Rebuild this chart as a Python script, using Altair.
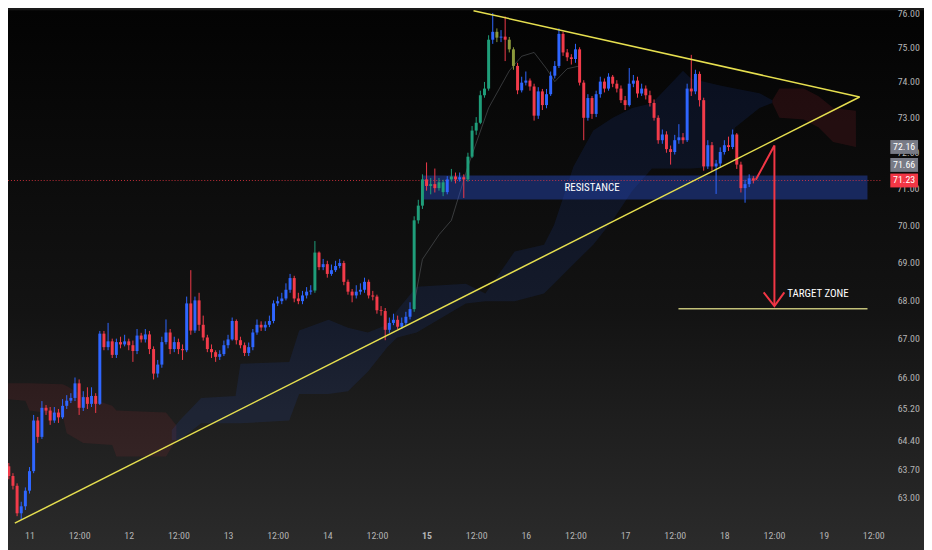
import altair as alt
import pandas as pd

FONT = "Liberation Sans Narrow, Roboto Condensed, DejaVu Sans Condensed, Roboto, sans-serif"

# ---------------- candle data (hourly, t = hours from day 11 00:00) ----------------
t_start = -6
first_open = 64.13
closes = [
    63.77, 63.53, 63.29, 62.62, 62.79, 63.17, 63.65, 64.91, 64.50, 65.23,
    65.16, 64.91, 65.11, 64.99, 65.28, 65.41, 65.48, 65.85, 65.23, 65.50,
    65.33, 65.53, 65.33, 67.13, 66.78, 66.93, 66.58, 66.91, 66.85, 66.93,
    66.83, 66.68, 67.08, 66.98, 67.11, 66.73, 66.10, 66.33, 66.91, 67.16,
    66.73, 66.91, 66.73, 66.70, 67.92, 67.21, 68.00, 67.36, 67.03, 66.73,
    66.65, 66.53, 66.60, 66.83, 66.98, 67.46, 66.96, 66.83, 66.63, 66.78,
    67.16, 67.36, 67.29, 67.36, 67.46, 67.92, 67.98, 68.05, 68.28, 68.59,
    68.05, 67.98, 68.13, 68.23, 68.26, 69.27, 68.88, 68.96, 68.70, 68.80,
    68.91, 68.99, 68.49, 68.23, 68.13, 68.23, 68.28, 68.49, 68.13, 68.10,
    67.74, 67.72, 67.23, 67.41, 67.49, 67.31, 67.41, 67.57, 67.77, 70.14,
    70.54, 71.26, 71.08, 71.13, 71.02, 71.18, 70.91, 71.26, 71.34, 71.26,
    71.32, 71.26, 71.89, 72.62, 72.84, 73.62, 73.81, 75.22, 75.45, 75.28,
    75.31, 75.22, 74.94, 74.46, 73.76, 73.98, 74.04, 73.87, 73.04, 73.73,
    73.34, 73.65, 74.18, 74.46, 75.39, 74.85, 74.71, 74.66, 74.94, 73.98,
    72.98, 73.54, 73.09, 73.65, 74.01, 73.81, 74.15, 73.95, 73.81, 73.48,
    73.34, 73.95, 74.04, 73.67, 73.81, 73.62, 73.40, 72.98, 72.35, 72.51,
    72.10, 72.02, 72.35, 72.43, 72.35, 73.81, 73.73, 74.23, 73.48, 71.62,
    72.21, 71.62, 71.70, 72.02, 72.21, 72.16, 72.51, 71.67, 71.02, 71.13,
    71.29, 71.23,
]
highs = [
    64.25, 63.85, 63.60, 63.35, 62.90, 63.25, 63.75, 65.05, 65.00, 65.40,
    65.30, 65.25, 65.25, 65.20, 65.45, 65.55, 65.60, 66.00, 65.95, 65.65,
    65.75, 65.75, 65.60, 67.20, 67.20, 67.41, 67.00, 67.00, 67.05, 67.10,
    67.00, 66.95, 67.25, 67.15, 67.25, 67.20, 66.80, 66.45, 67.05, 67.50,
    67.25, 67.05, 67.00, 66.85, 68.10, 68.80, 68.10, 68.20, 67.60, 67.10,
    66.85, 66.70, 66.70, 66.95, 67.10, 67.55, 67.50, 67.05, 66.90, 66.90,
    67.25, 67.50, 67.45, 67.45, 67.60, 68.00, 68.10, 68.20, 68.45, 68.70,
    68.65, 68.20, 68.25, 68.35, 68.40, 69.58, 69.30, 69.10, 69.05, 68.95,
    69.05, 69.10, 69.05, 68.55, 68.30, 68.40, 68.45, 68.60, 68.55, 68.25,
    68.15, 67.85, 67.80, 67.55, 67.65, 67.60, 67.55, 67.70, 67.95, 70.25,
    70.70, 71.40, 71.73, 71.30, 71.56, 71.30, 71.25, 71.35, 71.55, 71.45,
    71.45, 71.40, 72.00, 72.75, 73.00, 73.75, 74.00, 75.35, 76.00, 75.55,
    75.50, 75.90, 75.30, 75.00, 74.55, 74.15, 74.30, 74.10, 73.95, 73.85,
    73.80, 73.80, 74.30, 74.60, 75.55, 75.45, 74.95, 74.80, 75.10, 75.00,
    74.05, 73.65, 73.60, 73.75, 74.15, 74.10, 74.25, 74.20, 74.05, 73.90,
    73.60, 74.40, 74.20, 74.15, 73.95, 73.90, 73.75, 73.50, 73.05, 72.65,
    72.60, 72.20, 72.50, 72.80, 72.55, 73.95, 74.78, 74.35, 74.30, 73.55,
    72.35, 72.30, 71.80, 72.15, 72.35, 72.45, 72.65, 72.55, 71.75, 71.25,
    71.40, 71.35,
]
lows = [
    63.70, 63.45, 63.20, 62.55, 62.46, 62.70, 63.10, 63.60, 64.35, 64.45,
    65.05, 64.80, 64.85, 64.85, 64.95, 65.20, 65.35, 65.40, 65.05, 65.15,
    65.20, 65.25, 65.10, 65.30, 66.70, 66.70, 66.50, 66.50, 66.75, 66.80,
    66.70, 66.40, 66.60, 66.90, 66.90, 66.60, 65.95, 66.00, 66.25, 66.85,
    66.60, 66.65, 66.60, 66.45, 66.65, 67.10, 67.15, 67.20, 66.95, 66.65,
    66.50, 66.40, 66.45, 66.55, 66.75, 66.95, 66.85, 66.75, 66.55, 66.55,
    66.70, 67.10, 67.20, 67.20, 67.30, 67.40, 67.85, 67.90, 68.00, 68.20,
    67.95, 67.90, 67.90, 68.05, 68.15, 68.20, 68.80, 68.80, 68.60, 68.65,
    68.75, 68.85, 68.40, 68.15, 67.95, 68.05, 68.15, 68.20, 68.05, 68.00,
    67.65, 67.60, 66.96, 67.15, 67.35, 67.25, 67.25, 67.35, 67.50, 67.70,
    70.05, 70.45, 70.95, 70.85, 70.90, 70.95, 70.80, 70.85, 71.20, 71.15,
    71.20, 70.75, 71.20, 71.85, 72.50, 72.80, 73.55, 73.75, 75.10, 75.15,
    75.15, 74.60, 74.85, 74.35, 73.65, 73.70, 73.90, 73.75, 72.90, 72.95,
    73.20, 73.25, 73.60, 74.10, 74.40, 74.75, 74.60, 74.50, 74.55, 73.90,
    72.35, 72.90, 72.95, 73.00, 73.55, 73.70, 73.75, 73.85, 73.70, 73.40,
    73.20, 73.30, 73.85, 73.55, 73.60, 73.50, 73.30, 72.90, 72.25, 72.25,
    72.00, 71.67, 71.95, 72.25, 72.25, 72.30, 73.60, 73.65, 73.30, 71.50,
    71.55, 71.50, 70.86, 71.60, 71.95, 72.05, 72.10, 71.55, 70.90, 70.62,
    71.05, 71.15,
]
green_t = [69, 93, 94, 95, 97, 99, 100, 102, 106, 107, 108, 109, 110, 111]
olive_t = [113, 116, 117]

# ---------------- ichimoku cloud ----------------
red1_t = [-6, -1, 0, 8, 9, 13, 20, 21, 33, 35.5]
red1_top = [65.85, 65.85, 65.85, 65.83, 65.78, 65.53, 65.28, 65.16, 65.11, 64.79]
red1_bot = [65.45, 65.41, 65.16, 65.04, 64.59, 64.35, 64.30, 64.01, 64.01, 64.42]

blue_t = [34.4, 36.3, 41.5, 49.8, 51, 62.8, 65.2, 72.3, 77, 81.8, 86.5, 88.9, 93.6,
          105.5, 110.2, 117.3, 124.4, 126.8, 131.5, 136.3, 141, 145.7, 150.5, 158,
          160, 167, 170.6, 176.5, 179.6]
blue_top = [64.67, 64.91, 65.48, 65.53, 66.35, 66.40, 67.21, 67.49, 67.28, 67.16, 67.36,
            67.74, 68.36, 68.44, 68.18, 69.30, 69.48, 70.01, 71.61, 72.62, 72.98, 73.26,
            73.39, 74.32, 74.09, 73.90, 73.81, 73.68, 73.48]
blue_bot = [64.42, 64.42, 64.84, 64.84, 64.84, 64.91, 65.58, 65.58, 65.65, 66.15, 66.78,
            67.03, 67.16, 67.92, 67.98, 67.98, 68.18, 68.44, 68.96, 69.48, 70.14, 70.94,
            71.56, 71.56, 71.56, 71.62, 72.71, 73.26, 73.40]

red2_t = [179.6, 181.3, 187.2, 190.8, 194.3, 199.8]
red2_top = [73.48, 73.81, 73.81, 73.59, 73.26, 73.18]
red2_bot = [73.40, 72.98, 72.93, 72.71, 72.30, 72.16]

base_t = [93, 95, 99, 102, 106, 111, 116, 119, 122, 125, 127, 130, 133]
base_p = [67.92, 69.09, 69.75, 70.14, 71.62, 73.26, 74.32, 74.74, 74.85, 74.38, 74.01, 74.38, 74.46]

# ---------------- drawings ----------------
upper_t = [107.35, 200.7]
upper_p = [76.07, 73.57]
lower_t = [-3.55, 200.7]
lower_p = [62.38, 73.57]

res_t = [95.0, 202.6]
res_p = [71.37, 70.71]
last_price = 71.23

arrow_t = [175.6, 180.1, 180.1]
arrow_p = [71.25, 72.20, 67.85]
head_t = [177.5, 180.1, 182.5]
head_p = [68.21, 67.85, 68.21]

target_t = [156.9, 202.6]
target_p = [67.78, 67.78]

notes = ["RESISTANCE", "TARGET ZONE"]
notes_t = [136.0, 183.2]
notes_p = [71.03, 68.16]

y_ticks = [63.0, 63.7, 64.4, 65.2, 66.0, 67.0, 68.0, 69.0, 70.0, 73.0, 74.0, 75.0, 76.0]
hidden_ticks = [71.0, 72.0]
badge_p = [72.16, 71.66, 71.23]
badge_c = ["#787b86", "#787b86", "#f23645"]
x_ticks = list(range(0, 205, 12))

# ---------------- frames ----------------
n = len(closes)
times = list(range(t_start, t_start + n))
opens = [first_open] + closes[:-1]
kinds = []
for tt, o, c in zip(times, opens, closes):
    if tt in green_t:
        kinds.append("g")
    elif tt in olive_t:
        kinds.append("o")
    elif c >= o:
        kinds.append("u")
    else:
        kinds.append("d")
candles = pd.DataFrame({"t": times, "o": opens, "h": highs, "l": lows, "c": closes, "k": kinds})

W, H = 882, 514
xs = alt.Scale(domain=[-4, 205], nice=False, zero=False)
ys = alt.Scale(type="log", domain=[62.46, 76.08], nice=False, zero=False)
LABEL_C = "#b4b4b4"
xax = alt.Axis(
    values=x_ticks, title=None, grid=False, domain=False, ticks=False, tickSize=0,
    labelExpr="datum.value % 24 == 0 ? toString(11 + datum.value / 24) : '12:00'",
    labelColor=LABEL_C, labelFont=FONT, labelFontSize=10, labelPadding=11,
    labelOverlap=False, labelFlush=False, zindex=1,
    labelFontWeight={"condition": {"test": "datum.value == 96", "value": "bold"}, "value": "normal"},
)
yax = alt.Axis(
    values=y_ticks, orient="right", format=".2f", title=None, grid=False, domain=False,
    ticks=False, tickSize=0, labelColor=LABEL_C, labelFont=FONT, labelFontSize=10,
    labelPadding=15, labelOverlap=False, labelFlush=False, zindex=1,
)


def X(f):
    return alt.X(f"{f}:Q", scale=xs, axis=xax)


def Y(f):
    return alt.Y(f"{f}:Q", scale=ys, axis=yax)


bg = alt.Chart(pd.DataFrame({"a": [0]})).mark_rect(
    color=alt.Gradient(
        gradient="linear", x1=0, y1=0, x2=0, y2=1,
        stops=[alt.GradientStop(color="#030303", offset=0),
               alt.GradientStop(color="#131313", offset=0.55),
               alt.GradientStop(color="#2c2c2c", offset=1)],
    )
).encode(x=alt.value(0), x2=alt.value(W + 60), y=alt.value(0), y2=alt.value(H + 40))


def cloud(tl, top, bot, color, op):
    df = pd.DataFrame({"t": tl, "top": top, "bot": bot})
    return alt.Chart(df).mark_area(color=color, opacity=op).encode(
        x=X("t"), y=Y("top"), y2="bot")


c_red1 = cloud(red1_t, red1_top, red1_bot, "#f23645", 0.09)
c_blue = cloud(blue_t, blue_top, blue_bot, "#2962ff", 0.10)
c_red2 = cloud(red2_t, red2_top, red2_bot, "#f23645", 0.11)

base = alt.Chart(pd.DataFrame({"t": base_t, "p": base_p})).mark_line(
    color="#6a6d72", strokeWidth=0.8, opacity=0.6).encode(x=X("t"), y=Y("p"))

res = alt.Chart(pd.DataFrame({"t1": [res_t[0]], "t2": [res_t[1]], "p1": [res_p[0]], "p2": [res_p[1]]})).mark_rect(
    color="#2a52d6", opacity=0.40).encode(x=X("t1"), x2="t2", y=Y("p1"), y2="p2")

price_line = alt.Chart(pd.DataFrame({"p": [last_price]})).mark_rule(
    color="#f23645", strokeDash=[1, 2], strokeWidth=1, opacity=0.8
).encode(y=Y("p"), x=alt.value(0), x2=alt.value(W))

cscale = alt.Scale(domain=["u", "d", "g", "o"], range=["#2f66ff", "#f23b4a", "#1f9e7a", "#8c9a3c"])
wicks = alt.Chart(candles).mark_rule(strokeWidth=1).encode(
    x=X("t"), y=Y("l"), y2="h", color=alt.Color("k:N", scale=cscale, legend=None))
bodies = alt.Chart(candles).mark_bar(size=3).encode(
    x=X("t"), y=Y("o"), y2="c", color=alt.Color("k:N", scale=cscale, legend=None))


def seg(tl, pl, color, width):
    df = pd.DataFrame({"t": tl, "p": pl, "i": list(range(len(tl)))})
    return alt.Chart(df).mark_line(color=color, strokeWidth=width).encode(
        x=X("t"), y=Y("p"), order="i:Q")


up_line = seg(upper_t, upper_p, "#e6df4f", 1.5)
lo_line = seg(lower_t, lower_p, "#e6df4f", 1.5)
tgt_line = seg(target_t, target_p, "#c2c078", 1.5)
arrow = seg(arrow_t, arrow_p, "#f23645", 2)
head = seg(head_t, head_p, "#f23645", 2)

txt_df = pd.DataFrame({"t": notes_t, "p": notes_p, "s": notes})
res_txt = alt.Chart(txt_df.iloc[[0]]).mark_text(
    color="#ffffff", font=FONT, fontSize=11, align="center", baseline="middle").encode(
    x=X("t"), y=Y("p"), text="s:N")
tgt_txt = alt.Chart(txt_df.iloc[[1]]).mark_text(
    color="#ffffff", font=FONT, fontSize=11, align="left", baseline="middle").encode(
    x=X("t"), y=Y("p"), text="s:N")

hid_df = pd.DataFrame({"p": hidden_ticks, "s": [f"{v:.2f}" for v in hidden_ticks]})
hid_lab = alt.Chart(hid_df).mark_text(
    color=LABEL_C, font=FONT, fontSize=10, align="left", baseline="middle").encode(
    x=alt.value(W + 15), y=Y("p"), text="s:N")

bdf = pd.DataFrame({"p": badge_p, "c": badge_c, "s": [f"{v:.2f}" for v in badge_p]})
badges = alt.Chart(bdf).mark_point(
    shape="M-1,-0.5L1,-0.5L1,0.5L-1,0.5Z", filled=True, opacity=1, size=784, strokeWidth=0
).encode(x=alt.value(W + 22), y=Y("p"), color=alt.Color("c:N", scale=None, legend=None))
badge_txt = alt.Chart(bdf).mark_text(
    color="#ffffff", font=FONT, fontSize=10, align="center", baseline="middle").encode(
    x=alt.value(W + 22), y=Y("p"), text="s:N")

chart = alt.layer(
    bg, c_red1, c_blue, c_red2, base, res, price_line, wicks, bodies,
    up_line, lo_line, tgt_line, arrow, head, res_txt, tgt_txt,
    hid_lab, badges, badge_txt,
).properties(
    width=W, height=H,
    autosize=alt.AutoSizeParams(type="none"),
    padding={"left": 0, "top": 0, "right": 42, "bottom": 28},
    background="#1a1a1a",
).configure_view(stroke=None)

chart.save("out.html", embed_options={"renderer": "svg", "actions": False})
